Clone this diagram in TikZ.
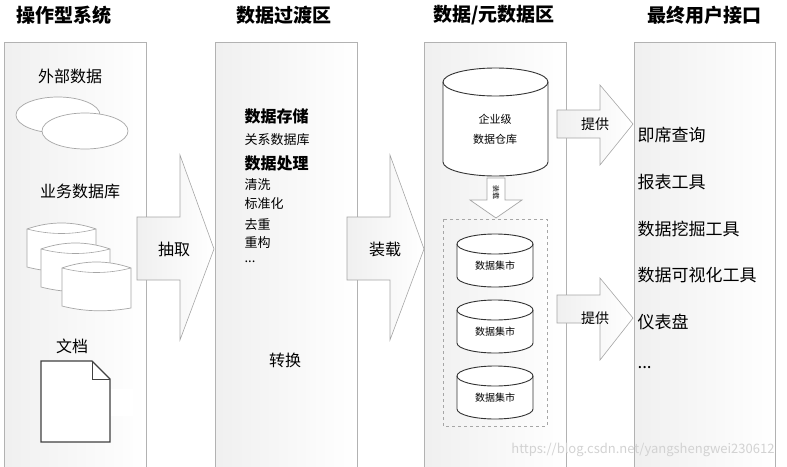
\documentclass[tikz,border=0pt]{standalone}
\usepackage{fontspec}
\setmainfont{Noto Sans CJK SC}
\usetikzlibrary{positioning}
\begin{document}
\begin{tikzpicture}[x=1pt,y=-1pt,
  col/.style={draw=gray!60,line width=0.8pt,left color=gray!12,right color=white},
  ttl/.style={font=\fontsize{19}{19}\selectfont\bfseries},
  bigarr/.style={draw=gray!70,line width=0.6pt,left color=gray!12,right color=white},
  lbl/.style={font=\fontsize{16}{16}\selectfont},
  item/.style={font=\fontsize{17}{17}\selectfont,anchor=west},
  small/.style={font=\fontsize{13}{13}\selectfont,anchor=west},
  bold/.style={font=\fontsize{16}{16}\selectfont\bfseries,anchor=west},
  shp/.style={draw=gray!70,line width=0.7pt,fill=white},
  cyl/.style={draw=black!80,line width=0.9pt,fill=white},
  tiny/.style={font=\fontsize{10}{10}\selectfont}]
\useasboundingbox (0,0) rectangle (787,466);
% columns
\path[col] (4,42) rectangle (146,470);
\path[col] (215,42) rectangle (357,470);
\path[col] (424,42) rectangle (566,470);
\path[col] (634,42) rectangle (775,470);
\node[ttl] (t1) at (64,15) {操作型系统};
\node[ttl] (t2) at (284,15) {数据过渡区};
\node[ttl] (t3) at (494,15) {数据/元数据区};
\node[ttl] (t4) at (704,15) {最终用户接口};
% big arrows
\path[bigarr] (137,217) -- (180,217) -- (180,155) -- (214,249) -- (180,340) -- (180,280) -- (137,280) -- cycle;
\node[lbl] (a1) at (174,249) {抽取};
\path[bigarr] (347,217) -- (390,217) -- (390,155) -- (424,249) -- (390,340) -- (390,280) -- (347,280) -- cycle;
\node[lbl] (a2) at (385,249) {装载};
\path[bigarr] (557,110) -- (600,110) -- (600,85) -- (633,124) -- (600,165) -- (600,138) -- (557,138) -- cycle;
\node[font=\fontsize{14}{14}\selectfont] (p1) at (595,124) {提供};
\path[bigarr] (557,295) -- (600,295) -- (600,278) -- (633,318) -- (600,360) -- (600,323) -- (557,323) -- cycle;
\node[font=\fontsize{14}{14}\selectfont] (p2) at (595,318) {提供};
% column 1
\node[lbl] (ext) at (70,76) {外部数据};
\path[shp] (58,115) ellipse [x radius=42,y radius=18];
\path[shp] (85,131) ellipse [x radius=43,y radius=18];
\node[lbl] (biz) at (80,191) {业务数据库};
\foreach \x/\y in {27/223,41/243,62/262}{
  \path[shp] (\x,\y+6) .. controls (\x+23,\y-2) and (\x+46,\y-2) .. (\x+69,\y+6)
    -- (\x+69,\y+46) .. controls (\x+46,\y+50) and (\x+23,\y+50) .. (\x,\y+44) -- cycle;
  \draw[gray!70,line width=0.6pt] (\x,\y+6) .. controls (\x+23,\y+12) and (\x+46,\y+12) .. (\x+69,\y+6);
}
\node[lbl] (doc) at (72,346) {文档};
\path[draw=black!75,line width=1.2pt,fill=white] (41,361) -- (92,361) -- (110,379) -- (110,442) -- (41,442) -- cycle;
\draw[black!75,line width=1pt] (92,361) -- (92,379) -- (110,379);
\fill[white] (111,389) rectangle (133,416);
% column 2
\node[bold] (s1) at (241,116) {数据存储};
\node[small] (s2) at (241,140) {关系数据库};
\node[bold] (s3) at (241,163) {数据处理};
\node[small] (s4) at (241,185) {清洗};
\node[small] (s5) at (241,204) {标准化};
\node[small] (s6) at (241,224) {去重};
\node[small] (s7) at (241,243) {重构};
\node[small] (s8) at (241,262) {...};
\node[lbl] (cv) at (285,360) {转换};
% column 3
\path[cyl] (443,82) -- (443,162) arc[start angle=180,end angle=0,x radius=52.5,y radius=14] -- (548,82) arc[start angle=0,end angle=-180,x radius=52.5,y radius=14];
\draw[black!80,line width=0.9pt] (443,82) arc[start angle=180,end angle=0,x radius=52.5,y radius=14];
\node[align=center,font=\fontsize{11}{20}\selectfont] (ew) at (495,129) {企业级\\数据仓库};
\path[shp] (487,178) -- (505,178) -- (505,200) -- (522,200) -- (496,218) -- (470,200) -- (487,200) -- cycle;
\node[font=\fontsize{7}{7}\selectfont,rotate=-90] (zz) at (496,192) {装载};
\draw[gray!70,dashed,line width=0.6pt] (443,219) rectangle (547,426);
\foreach \y/\n in {234/m1,300/m2,366/m3}{
  \path[cyl] (457,\y+10) -- (457,\y+43) arc[start angle=180,end angle=0,x radius=38,y radius=10] -- (533,\y+10) arc[start angle=0,end angle=-180,x radius=38,y radius=10];
  \draw[black!80,line width=0.9pt] (457,\y+10) arc[start angle=180,end angle=0,x radius=38,y radius=10];
  \node[tiny] (\n) at (495,\y+32) {数据集市};
}
% column 4
\node[item] (u1) at (634,135) {即席查询};
\node[item] (u2) at (634,182) {报表工具};
\node[item] (u3) at (634,229) {数据挖掘工具};
\node[item] (u4) at (634,275) {数据可视化工具};
\node[item] (u5) at (634,322) {仪表盘};
\node[item] (u6) at (634,368) {...};
\node[font=\fontsize{13}{13}\selectfont,text=gray!35,anchor=east] (wm) at (778,450) {https://blog.csdn.net/yangshengwei230612};
\end{tikzpicture}
\end{document}
